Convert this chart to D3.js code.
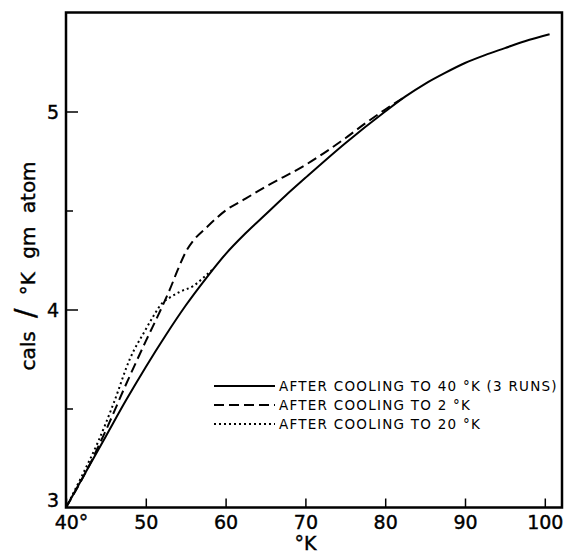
<!DOCTYPE html>
<html lang="en">
<head>
  <meta charset="UTF-8">
  <title>Heat capacity after cooling</title>
  <style>
    body {
      margin: 0;
      background: white;
      overflow: hidden;
    }
    svg {
      display: block;
    }
    text {
      font-family: "DejaVu Sans", sans-serif;
      fill: black;
    }
    .tick line {
      stroke: black;
      stroke-width: 1.5px;
    }
    .tick text {
      font-size: 19px;
      stroke: black;
      stroke-width: 0.4px;
    }
    .legend text {
      font-size: 13.5px;
      letter-spacing: 1.25px;
    }
  </style>
</head>
<body>
<div id="chart"></div>
<script src="https://d3js.org/d3.v7.min.js"></script>
<script type="text/javascript">

  // data (temperature in K, cals / K gm atom)
  var xTicks = [40, 50, 60, 70, 80, 90, 100];
  var yTicks = [3, 4, 5];
  var yMinorTicks = [3.5, 4.5];

  var solidK = [40, 42.5, 45, 47.5, 50, 52.5, 55, 57.5, 60, 62.5, 65, 67.5, 70, 75, 80, 82.5, 85, 87.5, 90, 92.5, 95, 97.5, 100.6];
  var solidC = [3.00, 3.18, 3.36, 3.54, 3.71, 3.87, 4.02, 4.155, 4.28, 4.385, 4.48, 4.575, 4.665, 4.84, 5.00, 5.075, 5.14, 5.195, 5.245, 5.285, 5.32, 5.355, 5.39];

  var dashedK = [40, 42.5, 45, 47.5, 50, 52, 53, 54, 55, 56, 57.5, 60, 62.5, 65, 70, 75, 77.5, 80, 82.5];
  var dashedC = [3.00, 3.18, 3.39, 3.62, 3.84, 4.01, 4.10, 4.20, 4.29, 4.35, 4.41, 4.50, 4.56, 4.62, 4.73, 4.865, 4.94, 5.01, 5.075];

  var dottedK = [40, 42, 44, 46, 48, 50, 51, 52, 53, 54.3, 56, 57.2, 58.3];
  var dottedC = [3.00, 3.16, 3.33, 3.53, 3.75, 3.90, 3.97, 4.03, 4.06, 4.09, 4.12, 4.16, 4.20];

  var legendLabels = ["AFTER COOLING TO 40 °K (3 RUNS)", "AFTER COOLING TO 2 °K", "AFTER COOLING TO 20 °K"];

  var series = [
    {K: solidK, C: solidC, dash: null},
    {K: dashedK, C: dashedC, dash: "10,5"},
    {K: dottedK, C: dottedC, dash: "2,3"}
  ];

  // size
  var w = 565;
  var h = 560;
  var margin = {top: 12.5, right: 3, bottom: 52.5, left: 66};
  var innerWidth = w - margin.left - margin.right;
  var innerHeight = h - margin.top - margin.bottom;

  var svg = d3.select("#chart")
          .append("svg")
          .attr("width", w)
          .attr("height", h);

  var plot = svg.append("g")
          .attr("transform", `translate(${margin.left}, ${margin.top})`);

  // scales
  var xScale = d3.scaleLinear()
          .domain([40, 40 + innerWidth / 7.98])
          .range([0, innerWidth]);

  var yScale = d3.scaleLinear()
          .domain([3, 5.5])
          .range([innerHeight, 0]);

  // x axis, ticks pointing inward
  var xAxis = d3.axisBottom(xScale)
          .tickValues(xTicks)
          .tickSize(-9)
          .tickPadding(6)
          .tickFormat(d => d === 40 ? "40°" : d);

  plot.append("g")
          .attr("transform", `translate(0, ${innerHeight})`)
          .call(xAxis)
          .call(g => g.select(".domain").remove())
          .call(g => g.selectAll(".tick text").attr("dy", "0.8em")
                  .attr("dx", d => d === 40 ? 5 : 0));

  // y axis
  var yAxis = d3.axisLeft(yScale)
          .tickValues(yTicks)
          .tickSize(-12)
          .tickPadding(7)
          .tickFormat(d3.format("d"));

  plot.append("g")
          .call(yAxis)
          .call(g => g.select(".domain").remove())
          .call(g => g.selectAll(".tick text").attr("dy", d => d === 3 ? "-0.05em" : "0.36em"))
          .call(g => g.selectAll(".tick line").filter(d => d === 3).remove());

  plot.append("g")
          .call(d3.axisLeft(yScale).tickValues(yMinorTicks).tickSize(-7).tickFormat(""))
          .call(g => g.select(".domain").remove())
          .call(g => g.selectAll(".tick text").remove());

  // frame
  plot.append("rect")
          .attr("width", innerWidth)
          .attr("height", innerHeight)
          .attr("fill", "none")
          .attr("stroke", "black")
          .attr("stroke-width", 2.5);

  // curves
  var line = d3.line()
          .x(d => xScale(d[0]))
          .y(d => yScale(d[1]))
          .curve(d3.curveMonotoneX);

  plot.selectAll("path.curve")
          .data(series)
          .enter()
          .append("path")
          .attr("class", "curve")
          .attr("d", s => line(d3.zip(s.K, s.C)))
          .attr("fill", "none")
          .attr("stroke", "black")
          .attr("stroke-width", 2)
          .attr("stroke-dasharray", s => s.dash);

  // legend
  var legend = svg.append("g")
          .attr("class", "legend")
          .attr("transform", "translate(214, 386)");

  var rows = legend.selectAll("g")
          .data(legendLabels)
          .enter()
          .append("g")
          .attr("transform", (d, i) => `translate(0, ${i * 19})`);

  rows.append("line")
          .attr("x1", 0)
          .attr("x2", 61)
          .attr("stroke", "black")
          .attr("stroke-width", 2)
          .attr("stroke-dasharray", (d, i) => series[i].dash);

  rows.append("text")
          .attr("x", 65)
          .attr("dy", "0.37em")
          .text(d => d);

  // axis titles
  svg.append("text")
          .attr("x", margin.left + xScale(70))
          .attr("y", 550)
          .attr("text-anchor", "middle")
          .style("font-size", "19px")
          .style("stroke", "black")
          .style("stroke-width", "0.4px")
          .text("°K");

  var ytitle = svg.append("text")
          .attr("transform", "translate(35, 266) rotate(-90)")
          .attr("text-anchor", "middle")
          .style("font-size", "20px")
          .style("word-spacing", "7px")
          .style("stroke", "black")
          .style("stroke-width", "0.4px");
  ytitle.append("tspan").text("cals ");
  ytitle.append("tspan").style("font-size", "28px").text("/");
  ytitle.append("tspan").text(" °K gm atom");

</script>
</body>
</html>
